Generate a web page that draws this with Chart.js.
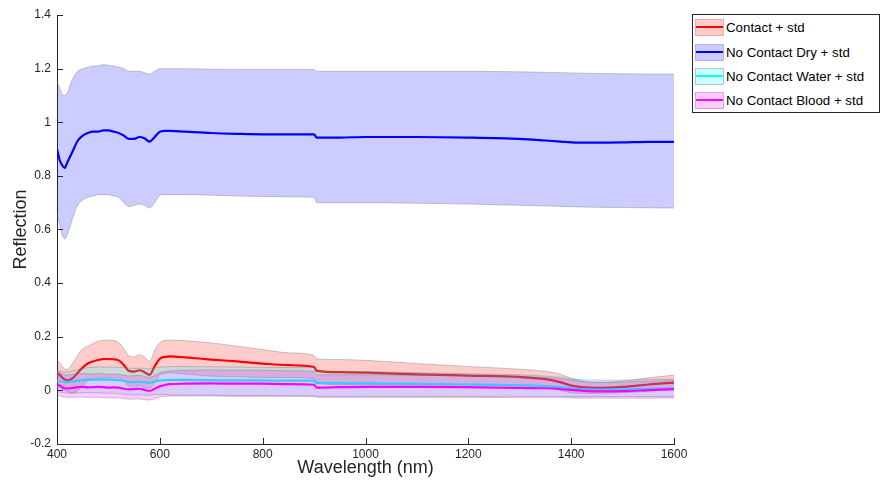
<!DOCTYPE html>
<html>
<head>
<meta charset="utf-8">
<script src="https://cdn.jsdelivr.net/npm/chart.js@4.4.0/dist/chart.umd.min.js"></script>
<style>
  body{margin:0;background:#fff;font-family:"Liberation Sans",Arial,sans-serif;}
  #wrap{position:relative;width:881px;height:481px;}
  #legend{position:absolute;left:692px;top:14px;width:186px;height:97px;border:1px solid #262626;background:#fff;}
  .row{position:absolute;left:2px;height:18px;font-size:13.3px;color:#000;line-height:18px;white-space:nowrap;}
  .sw{position:absolute;left:0;top:0;width:27px;height:15px;border:1px solid;}
  .sw i{position:absolute;left:0;right:0;top:6px;height:2px;}
  .row span.t{position:absolute;left:31px;top:0;}
</style>
</head>
<body>
<div id="wrap">
  <canvas id="chart" width="881" height="481"></canvas>
  <div id="legend"></div>
</div>
<script>
// wavelength grid (nm)
const wl=[400,405,410,415,420,430,440,450,460,470,480,490,500,510,520,530,540,550,560,570,580,590,600,610,620,
  650,700,750,800,850,900,905,950,1000,1100,1200,1300,1350,1380,1400,1420,1450,1500,1550,1600];

// Contact
const contactMean=[0.065,0.058,0.048,0.040,0.037,0.045,0.065,0.085,0.100,0.108,0.113,0.117,0.117,0.116,0.112,0.095,0.072,0.070,0.075,0.068,0.058,0.090,0.118,0.125,0.127,
  0.123,0.115,0.108,0.100,0.094,0.087,0.073,0.068,0.066,0.060,0.055,0.050,0.042,0.030,0.018,0.012,0.009,0.013,0.022,0.029];
const contactUpper=[0.115,0.105,0.090,0.080,0.078,0.100,0.130,0.155,0.165,0.175,0.183,0.187,0.188,0.186,0.178,0.155,0.128,0.125,0.133,0.125,0.108,0.150,0.178,0.187,0.188,
  0.185,0.177,0.165,0.152,0.140,0.130,0.117,0.115,0.112,0.100,0.089,0.079,0.071,0.060,0.045,0.035,0.029,0.035,0.047,0.057];
const contactLower=[0.015,0.011,0.006,0.000,-0.004,-0.010,0.000,0.015,0.035,0.041,0.043,0.047,0.046,0.046,0.046,0.035,0.016,0.015,0.017,0.011,0.008,0.030,0.058,0.063,0.066,
  0.061,0.053,0.051,0.048,0.048,0.044,0.029,0.021,0.020,0.020,0.021,0.021,0.013,0.000,-0.009,-0.011,-0.011,-0.009,-0.003,0.001];

// No Contact Dry
const dryMean=[0.900,0.860,0.840,0.830,0.850,0.890,0.930,0.950,0.960,0.965,0.965,0.970,0.970,0.965,0.960,0.950,0.938,0.938,0.945,0.940,0.928,0.945,0.965,0.968,0.968,
  0.965,0.960,0.957,0.955,0.955,0.955,0.943,0.943,0.945,0.945,0.943,0.938,0.932,0.928,0.925,0.924,0.924,0.925,0.927,0.927];
const dryUpper=[1.150,1.130,1.105,1.100,1.110,1.160,1.190,1.200,1.205,1.210,1.210,1.215,1.212,1.210,1.205,1.200,1.190,1.190,1.190,1.185,1.180,1.190,1.200,1.200,1.200,
  1.200,1.198,1.197,1.197,1.197,1.197,1.190,1.190,1.190,1.190,1.190,1.188,1.186,1.185,1.184,1.183,1.182,1.181,1.180,1.180];
const dryLower=[0.660,0.620,0.580,0.565,0.580,0.640,0.690,0.710,0.720,0.725,0.730,0.730,0.730,0.725,0.720,0.700,0.685,0.690,0.695,0.690,0.680,0.700,0.728,0.730,0.730,
  0.730,0.728,0.725,0.723,0.722,0.720,0.700,0.700,0.700,0.698,0.695,0.690,0.688,0.686,0.685,0.684,0.683,0.682,0.681,0.680];

// No Contact Water
const waterMean=[0.035,0.034,0.033,0.032,0.031,0.033,0.036,0.038,0.040,0.040,0.041,0.040,0.040,0.039,0.038,0.035,0.032,0.031,0.032,0.031,0.029,0.033,0.037,0.038,0.039,
  0.039,0.038,0.037,0.037,0.036,0.036,0.028,0.027,0.026,0.024,0.022,0.019,0.016,0.012,0.008,0.005,0.003,0.004,0.006,0.008];
const waterUpper=[0.075,0.072,0.070,0.068,0.068,0.072,0.078,0.082,0.085,0.086,0.087,0.087,0.087,0.086,0.086,0.085,0.083,0.082,0.083,0.082,0.080,0.083,0.087,0.088,0.089,
  0.089,0.088,0.087,0.086,0.085,0.085,0.072,0.071,0.070,0.066,0.062,0.058,0.053,0.048,0.043,0.040,0.038,0.038,0.040,0.042];
const waterLower=[-0.005,-0.006,-0.008,-0.009,-0.010,-0.010,-0.010,-0.009,-0.008,-0.009,-0.009,-0.010,-0.010,-0.011,-0.012,-0.014,-0.016,-0.017,-0.016,-0.017,-0.018,-0.015,-0.015,-0.016,-0.017,
  -0.018,-0.018,-0.019,-0.019,-0.020,-0.020,-0.022,-0.022,-0.022,-0.022,-0.022,-0.022,-0.022,-0.022,-0.023,-0.023,-0.023,-0.023,-0.023,-0.023];

// No Contact Blood
const bloodMean=[0.022,0.018,0.012,0.008,0.007,0.009,0.012,0.013,0.011,0.012,0.013,0.012,0.010,0.011,0.010,0.006,0.004,0.005,0.006,0.002,-0.002,0.006,0.015,0.020,0.023,
  0.025,0.026,0.025,0.025,0.023,0.021,0.010,0.012,0.013,0.013,0.012,0.009,0.008,0.005,0.002,-0.001,-0.004,-0.003,0.001,0.005];
const bloodUpper=[0.072,0.068,0.062,0.058,0.057,0.059,0.062,0.063,0.061,0.062,0.063,0.062,0.060,0.061,0.060,0.056,0.054,0.055,0.056,0.052,0.048,0.056,0.065,0.070,0.073,
  0.075,0.076,0.075,0.075,0.073,0.071,0.058,0.058,0.058,0.057,0.055,0.051,0.048,0.043,0.038,0.034,0.031,0.031,0.034,0.037];
const bloodLower=[-0.018,-0.020,-0.023,-0.025,-0.026,-0.026,-0.025,-0.025,-0.026,-0.026,-0.026,-0.027,-0.028,-0.028,-0.029,-0.031,-0.033,-0.032,-0.032,-0.034,-0.036,-0.031,-0.025,-0.022,-0.021,
  -0.021,-0.021,-0.022,-0.022,-0.022,-0.023,-0.026,-0.026,-0.026,-0.026,-0.026,-0.027,-0.027,-0.027,-0.028,-0.029,-0.029,-0.029,-0.029,-0.028];

const xTicks=[400,600,800,1000,1200,1400,1600];
const yTicks=[-0.2,0,0.2,0.4,0.6,0.8,1,1.2,1.4];

const series=[
  {label:"Contact + std",mean:contactMean,up:contactUpper,lo:contactLower,line:"#ff0000",fill:"rgba(255,0,0,0.2)",patch:"#ffcccc",edge:"#f2a6a6"},
  {label:"No Contact Dry + std",mean:dryMean,up:dryUpper,lo:dryLower,line:"#0000ff",fill:"rgba(0,0,255,0.2)",patch:"#ccccff",edge:"#b3b3f0"},
  {label:"No Contact Water + std",mean:waterMean,up:waterUpper,lo:waterLower,line:"#00ffff",fill:"rgba(0,255,255,0.2)",patch:"#ccffff",edge:"#a9cccc"},
  {label:"No Contact Blood + std",mean:bloodMean,up:bloodUpper,lo:bloodLower,line:"#ff00ff",fill:"rgba(255,0,255,0.2)",patch:"#ffccff",edge:"#d9a6d9"}
];

const pts=arr=>arr.map((v,i)=>({x:wl[i],y:v}));

let datasets=[];
series.forEach(s=>{
  datasets.push({data:pts(s.up),fill:"+1",backgroundColor:s.fill,borderColor:"rgba(110,110,110,0.45)",borderWidth:0.8,pointRadius:0,cubicInterpolationMode:"monotone"});
  datasets.push({data:pts(s.lo),fill:false,borderColor:"rgba(110,110,110,0.45)",borderWidth:0.8,pointRadius:0,cubicInterpolationMode:"monotone"});
  datasets.push({data:pts(s.mean),fill:false,borderColor:s.line,borderWidth:2.2,pointRadius:0,cubicInterpolationMode:"monotone"});
});
// first plotted goes to the bottom
datasets.forEach((d,i)=>d.order=datasets.length-i);

const inwardTicks={
  id:"inwardTicks",
  afterDraw(chart){
    const {ctx,chartArea:a}=chart;
    const x=chart.scales.x,y=chart.scales.y;
    ctx.save();
    ctx.strokeStyle="#262626";
    ctx.lineWidth=1;
    xTicks.forEach(v=>{
      const px=Math.round(x.getPixelForValue(v))+0.5;
      ctx.beginPath();ctx.moveTo(px,a.bottom);ctx.lineTo(px,a.bottom-6);ctx.stroke();
    });
    yTicks.forEach(v=>{
      const py=Math.round(y.getPixelForValue(v))+0.5;
      ctx.beginPath();ctx.moveTo(a.left,py);ctx.lineTo(a.left+6,py);ctx.stroke();
    });
    ctx.restore();
  }
};

chart=new Chart(document.getElementById("chart"),{
  type:"line",
  data:{datasets:datasets},
  options:{
    responsive:false,
    animation:false,
    layout:{padding:{left:0,right:207,top:15,bottom:0}},
    plugins:{legend:{display:false},tooltip:{enabled:false}},
    scales:{
      x:{
        type:"linear",min:400,max:1600,
        afterFit:s=>{s.height=37;},
        afterBuildTicks:s=>{s.ticks=xTicks.map(v=>({value:v}));},
        ticks:{color:"#262626",font:{family:"Liberation Sans",size:12},padding:3,maxRotation:0,callback:v=>String(v)},
        grid:{drawOnChartArea:false,drawTicks:false},
        border:{display:true,color:"#262626",width:1},
        title:{display:true,text:"Wavelength (nm)",color:"#262626",font:{family:"Liberation Sans",size:18},padding:{top:0,bottom:2}}
      },
      y:{
        type:"linear",min:-0.2,max:1.4,
        afterFit:s=>{s.width=57;},
        afterBuildTicks:s=>{s.ticks=yTicks.map(v=>({value:v}));},
        ticks:{color:"#262626",font:{family:"Liberation Sans",size:12},padding:6,callback:v=>String(Number(v.toFixed(1)))},
        grid:{drawOnChartArea:false,drawTicks:false},
        border:{display:true,color:"#262626",width:1},
        title:{display:true,text:"Reflection",color:"#262626",font:{family:"Liberation Sans",size:18},padding:{top:10,bottom:0}}
      }
    }
  },
  plugins:[inwardTicks]
});

// legend
const leg=document.getElementById("legend");
const rowTop=[4,29,53,77];
series.forEach((s,i)=>{
  const r=document.createElement("div");
  r.className="row";
  r.style.top=rowTop[i]+"px";
  r.innerHTML='<div class="sw" style="background:'+s.patch+';border-color:'+s.edge+'"><i style="background:'+s.line+'"></i></div><span class="t">'+s.label+'</span>';
  leg.appendChild(r);
});
</script>
</body>
</html>
